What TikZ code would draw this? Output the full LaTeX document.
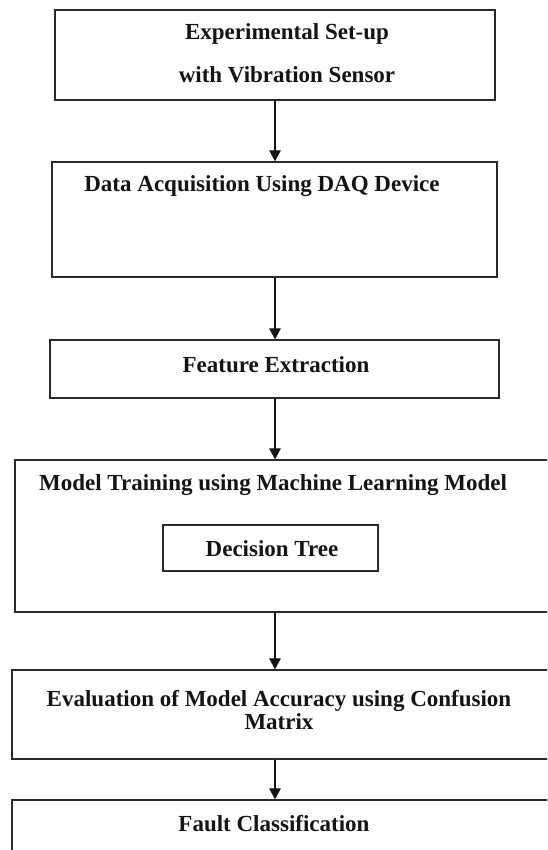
\documentclass[tikz,border=0pt]{standalone}
\usepackage{fontspec}
\setmainfont{Liberation Serif}
\usetikzlibrary{arrows.meta,fit}
\definecolor{linegray}{HTML}{2A2A2A}
\definecolor{inkblack}{HTML}{141414}
\begin{document}
\begin{tikzpicture}[x=1pt,y=-1pt,
  box/.style={draw=linegray,line width=1.3pt,inner sep=0pt},
  lbl/.style={font=\bfseries\fontsize{23}{23}\selectfont,text=inkblack,inner sep=0pt,anchor=base,align=center},
  flow/.style={draw=inkblack,line width=1.2pt,-{Triangle[width=11.5pt,length=11pt]}}]
% page frame
\fill[white] (0,0) rectangle (547,850);
\clip (0,0) rectangle (547,850);
\useasboundingbox (0,0) rectangle (547,850);
\coordinate (axis) at (275,0);

% process boxes
\node[box,fit={(55,10) (495,100)}] (setup) {};
\node[box,fit={(52,162) (497,277)}] (daq) {};
\node[box,fit={(50,340) (499,398)}] (feat) {};
\node[box,fit={(15,460) (562,612)}] (train) {};
\node[box,fit={(163,525) (378,571)}] (tree) {};
\node[box,fit={(12,670) (562,759)}] (eval) {};
\node[box,fit={(12,800) (562,880)}] (fault) {};

% labels (multi-line labels sit on the baseline of their last line)
\node[lbl,font=\bfseries\fontsize{23}{43}\selectfont] (tsetup) at (287,83) {Experimental Set-up\\with Vibration Sensor};
\node[lbl] (tdaq) at (262,192) {Data Acquisition Using DAQ Device};
\node[lbl] (tfeat) at (276,372) {Feature Extraction};
\node[lbl] (ttrain) at (273,490) {Model Training using Machine Learning Model};
\node[lbl] (ttree) at (272,556) {Decision Tree};
\node[lbl] (teval) at (279,729) {Evaluation of Model Accuracy using Confusion\\Matrix};
\node[lbl] (tfault) at (274,831) {Fault Classification};

% connectors
\draw[flow] (setup.south -| axis) -- (daq.north -| axis);
\draw[flow] (daq.south -| axis) -- (feat.north -| axis);
\draw[flow] (feat.south -| axis) -- (train.north -| axis);
\draw[flow] (train.south -| axis) -- (eval.north -| axis);
\draw[flow] (eval.south -| axis) -- (fault.north -| axis);
\end{tikzpicture}
\end{document}
